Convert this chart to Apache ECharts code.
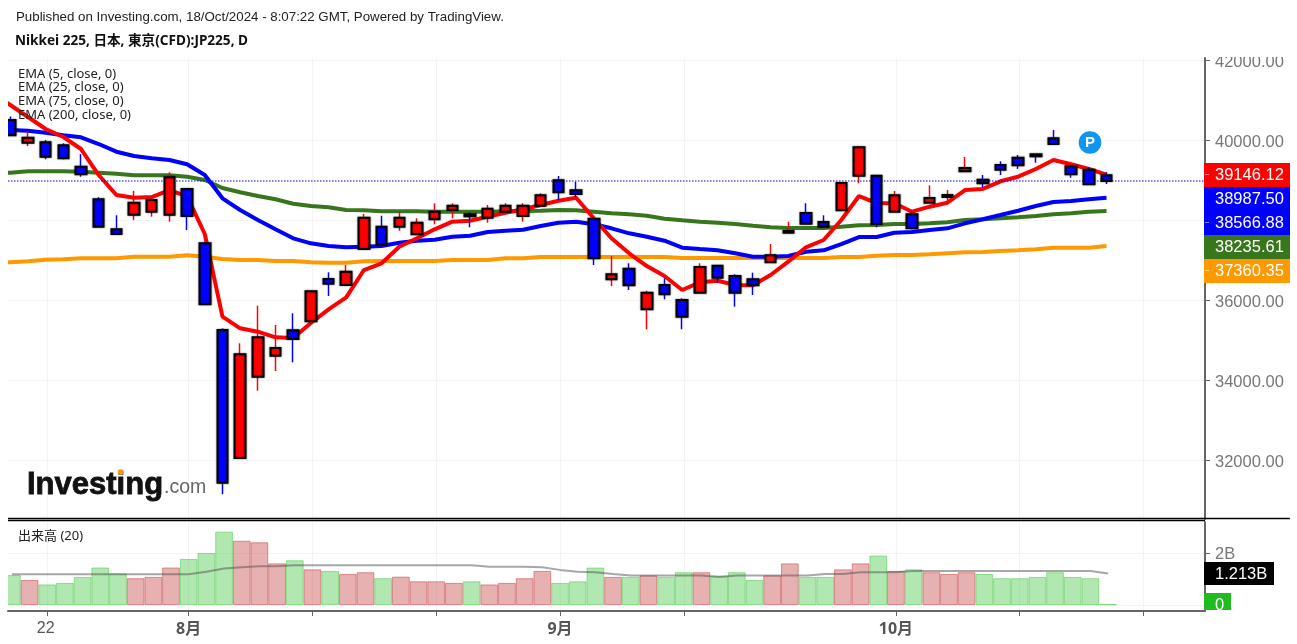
<!DOCTYPE html>
<html>
<head>
<meta charset="utf-8">
<title>Nikkei 225</title>
<style>
  html, body { margin: 0; padding: 0; background: #fff; }
  #chart { width: 1297px; height: 644px; }
</style>
<script src="https://cdn.jsdelivr.net/npm/echarts@6/dist/echarts.min.js"></script>
</head>
<body>
<div id="chart"></div>
<script>
const opens = [40510,39945,39955,39880,39345,38530,37780,38145,38220,38145,38790,37430,35262,32060,34095,34620,35255,35480,36537,36387,37287,37845,37845,37655,38030,38262,38155,38070,38220,38112,38370,39005,38755,38045,36530,36795,35780,36387,36012,36195,36870,36612,36530,36955,37695,38187,37962,38255,39120,39120,38220,38155,38445,38587,39230,39020,39387,39570,39655,40055,39355,39270,39130]
const closes = [40130,40070,39595,39555,39155,37845,37660,38445,38510,39080,38110,35905,31445,34655,35080,34812,35037,36230,36420,36720,38070,37395,38070,37945,38220,38370,38105,38295,38370,38370,38630,38705,38662,37055,36655,36380,36195,36155,35595,36837,36570,36195,36380,37130,37737,37920,37845,38937,39830,37912,38630,37805,38562,38637,39312,38930,39270,39380,39605,39912,39155,38905,38987.5]
const lows = [40120,39860,39530,39530,39095,37840,37660,38010,38095,37970,37760,35890,31155,32060,33745,34237,34455,35470,36112,36380,37280,37390,37745,37650,37905,38055,37830,37945,38195,37970,38360,38512,38580,36887,36362,36262,35280,36030,35280,36190,36445,35845,36137,36950,37690,37915,37840,38250,38930,37830,38215,37780,38440,38430,39225,38830,39137,39287,39445,39905,39070,38900,38912]
const highs = [40600,40220,40010,39930,39660,38580,38130,38740,38555,39205,38810,37440,35305,34930,35870,35387,35680,36240,36705,36887,38162,38120,38230,38055,38430,38430,38205,38387,38430,38430,38680,39112,38970,38060,37112,36930,36245,36555,36055,36930,36880,36655,36695,37412,37970,38430,38130,38940,39862,39130,38737,38237,38880,38762,39587,39137,39480,39637,39660,40262,39365,39330,39205]

// the EMA lists start one session before the first candle, off the left edge
const ema5 = [41187,40887,40587,40287,40087,39787,39137,38637,38570,38587,38762,38605,37662,35595,35305,35220,35080,35062,35437,35780,36080,36762,36930,37345,37555,37780,37970,37995,38095,38195,38280,38387,38495,38570,38055,37555,37180,36862,36612,36262,36455,36495,36387,36380,36637,36970,37330,37512,38012,38612,38437,38430,38220,38345,38445,38762,38787,38980,39095,39287,39512,39405,39287,39146.12]
const ema25 = [40270,40262,40245,40195,40130,40080,39912,39720,39612,39555,39512,39405,39137,38555,38262,38012,37780,37555,37430,37362,37330,37345,37362,37445,37495,37520,37595,37620,37712,37745,37770,37862,37945,37970,37905,37805,37680,37595,37495,37320,37287,37255,37180,37095,37095,37112,37220,37255,37412,37587,37587,37695,37712,37762,37805,37930,38030,38137,38245,38362,38462,38487,38530,38566.88]
const ema75 = [39190,39195,39230,39230,39230,39220,39195,39170,39130,39130,39130,39095,39012,38812,38705,38612,38530,38420,38362,38330,38262,38255,38230,38230,38230,38220,38220,38220,38220,38230,38237,38245,38262,38255,38220,38180,38155,38120,38045,38005,37970,37945,37912,37870,37830,37812,37812,37812,37845,37880,37887,37912,37912,37930,37955,38012,38030,38055,38080,38112,38155,38180,38220,38235.61]
const ema200 = [36930,36955,36980,37020,37030,37055,37055,37055,37095,37095,37095,37130,37095,37037,37012,37012,36987,36987,36955,36945,36945,36980,36987,36987,36987,36987,37012,37012,37012,37055,37055,37087,37087,37087,37087,37087,37087,37087,37087,37062,37062,37062,37062,37062,37062,37062,37062,37062,37087,37087,37120,37137,37137,37155,37180,37205,37212,37237,37255,37280,37320,37320,37320,37360.35]

// volume in billions
const volume = [1.15,0.96,0.79,0.85,1.08,1.44,1.21,1.03,1.08,1.44,1.77,2.0,2.82,2.47,2.41,1.6,1.72,1.37,1.31,1.19,1.26,1.03,1.09,0.91,0.91,0.85,0.91,0.79,0.85,1.03,1.31,0.85,0.91,1.44,1.08,1.08,1.14,1.08,1.26,1.26,1.13,1.26,0.96,1.14,1.6,1.08,1.08,1.37,1.6,1.9,1.31,1.37,1.26,1.19,1.26,1.19,1.03,1.03,1.08,1.26,1.08,1.03,0.03]
const volumeMa = [1.18,1.18,1.18,1.18,1.18,1.18,1.18,1.18,1.18,1.18,1.18,1.28,1.40,1.45,1.49,1.49,1.53,1.53,1.53,1.53,1.53,1.53,1.53,1.53,1.53,1.53,1.53,1.47,1.47,1.47,1.45,1.35,1.28,1.26,1.19,1.13,1.13,1.13,1.13,1.13,1.08,1.13,1.13,1.13,1.13,1.13,1.19,1.19,1.26,1.26,1.26,1.31,1.31,1.31,1.31,1.31,1.31,1.31,1.31,1.31,1.31,1.31,1.213]

const tickIndex = [2,10,17,24,31,38,50,57,64]
const monthTicks = [2,10,31,50]
const monthLabels = ['22','8月','9月','10月']
const priceTicks = [32000,34000,36000,38000,40000,42000]
const volumeTicks = [0,2]

const emaLegend = ['EMA (5, close, 0)','EMA (25, close, 0)','EMA (75, close, 0)','EMA (200, close, 0)']
const tagLabels = ['39146.12','38987.50','38566.88','38235.61','37360.35']
const tagColors = ['#ff0000','#0000ff','#0000ff','#38761d','#ff9900']

const candleShift = 0.09 // candles sit a little left of the volume bars and ticks
const axisMin = -0.22
const axisMax = 67.48

const fontLatin = '"Liberation Sans", Arial, sans-serif'
const fontNoto = '"Noto Sans", "Noto Sans CJK JP", sans-serif'

const candleData = opens.map((o, i) => [i - candleShift, o, closes[i], lows[i], highs[i]])
const bodyData = opens.map((o, i) => [i - candleShift, o, closes[i], Math.min(o, closes[i]), Math.max(o, closes[i])])
const volumeData = volume.map((v, i) => {
  const up = closes[i] > opens[i]
  return {
    value: [i, v],
    itemStyle: {
      color: up ? 'rgba(204,82,82,0.45)' : 'rgba(90,205,90,0.47)',
      borderColor: up ? 'rgba(204,82,82,0.6)' : 'rgba(90,205,90,0.6)'
    }
  }
})

function emaSeries(name, values, color) {
  return {
    name: name,
    type: 'line',
    xAxisIndex: 0,
    yAxisIndex: 0,
    z: 2,
    data: values.map((v, i) => [i - 1 - candleShift, v]),
    symbol: 'none',
    lineStyle: { color: color, width: 4 }
  }
}

function tagGraphics() {
  const out = []
  tagLabels.forEach((label, i) => {
    out.push({
      type: 'rect', z: 100,
      shape: { x: 1204, y: 163 + 24 * i, width: 86, height: 24 },
      style: { fill: tagColors[i] }
    })
    out.push({
      type: 'text', z: 101, x: 1215, y: 175 + 24 * i,
      style: { text: label, fill: '#fff', font: '16.5px ' + fontLatin, textVerticalAlign: 'middle' }
    })
    if (i % 2 === 0) {
      out.push({
        type: 'line', z: 101,
        shape: { x1: 1205, y1: 174.5 + 24 * i, x2: 1209, y2: 174.5 + 24 * i },
        style: { stroke: 'rgba(255,255,255,0.55)', lineWidth: 1 }
      })
    }
  })
  return out
}

const chart = echarts.init(document.getElementById('chart'), null, { renderer: 'canvas' })
chart.setOption({
  animation: false,
  backgroundColor: '#fff',
  title: [
    { text: 'Published on Investing.com, 18/Oct/2024 - 8:07:22 GMT, Powered by TradingView.', left: 16, top: 11, padding: 0,
      textStyle: { color: '#222', fontSize: 13.3, fontWeight: 'normal', fontFamily: fontLatin } },
    { text: 'Nikkei 225, 日本, 東京(CFD):JP225, D', left: 15, top: 34, padding: 0,
      textStyle: { color: '#111', fontSize: 13.6, fontWeight: 'bold', fontFamily: fontNoto } },
    ...emaLegend.map((t, i) => ({
      text: t, left: 18, top: 67.5 + [0, 13.5, 27, 41][i], padding: 0,
      textStyle: { color: '#222', fontSize: 13, fontWeight: 'normal', fontFamily: fontNoto }
    })),
    { text: '出来高 (20)', left: 18, top: 530, padding: 0,
      textStyle: { color: '#222', fontSize: 13, fontWeight: 'normal', fontFamily: fontNoto } }
  ],
  grid: [
    { left: 8, top: 58, width: 1197, height: 461, containLabel: false },
    { left: 8, top: 522, width: 1197, height: 89, containLabel: false }
  ],
  xAxis: [
    {
      type: 'value', gridIndex: 0, min: axisMin, max: axisMax,
      axisLine: { show: false, onZero: false },
      axisLabel: { show: false },
      axisTick: { show: false, customValues: tickIndex },
      splitLine: { show: true, lineStyle: { color: '#f3f3f3', width: 1 } }
    },
    {
      type: 'value', gridIndex: 1, min: axisMin, max: axisMax,
      axisLine: { show: true, onZero: false, lineStyle: { color: '#666', width: 2 } },
      axisTick: { show: true, length: 5, lineStyle: { color: '#666' }, customValues: tickIndex },
      axisLabel: {
        show: true, margin: 10, customValues: monthTicks, showMinLabel: true, showMaxLabel: true,
        color: '#555', fontSize: 16, fontFamily: fontLatin,
        formatter: function (v) {
          const label = monthLabels[monthTicks.indexOf(v)]
          return label.indexOf('月') > 0 ? '{m|' + label + '}' : '{d|' + label + '}'
        },
        rich: {
          m: { fontSize: 16, fontWeight: 'bold', color: '#555', fontFamily: fontNoto },
          d: { fontSize: 16, color: '#555', fontFamily: fontLatin, padding: [0, 3, 0, 0] }
        }
      },
      splitLine: { show: true, lineStyle: { color: '#f3f3f3', width: 1 } }
    }
  ],
  yAxis: [
    {
      type: 'value', gridIndex: 0, position: 'right', min: 30537.5, max: 42062.5,
      axisLine: { show: true, onZero: false, lineStyle: { color: '#666', width: 2 } },
      axisTick: { show: true, length: 5, lineStyle: { color: '#666' }, customValues: priceTicks },
      axisLabel: {
        show: true, margin: 10, customValues: priceTicks,
        formatter: function (v) { return '{p|' + v.toFixed(2) + '}' },
        rich: { p: { color: '#777', fontSize: 16.5, fontFamily: fontLatin, padding: [4, 0, 0, 0] } }
      },
      splitLine: { show: true, lineStyle: { color: '#f3f3f3', width: 1 } }
    },
    {
      type: 'value', gridIndex: 1, position: 'right', min: -0.23, max: 3.19,
      axisLine: { show: true, onZero: false, lineStyle: { color: '#666', width: 2 } },
      axisTick: { show: true, length: 5, lineStyle: { color: '#666' }, customValues: volumeTicks },
      axisLabel: {
        show: true, margin: 10, customValues: [2],
        formatter: function (v) { return '{p|' + v + 'B}' },
        rich: { p: { color: '#777', fontSize: 16.5, fontFamily: fontLatin, padding: [2, 0, 0, 0] } }
      },
      splitLine: { show: true, lineStyle: { color: '#f3f3f3', width: 1 } }
    }
  ],
  series: [
    emaSeries('EMA 200', ema200, '#ff9900'),
    emaSeries('EMA 75', ema75, '#38761d'),
    emaSeries('EMA 25', ema25, '#0000ff'),
    emaSeries('EMA 5', ema5, '#ff0000'),
    {
      name: 'last',
      type: 'line',
      xAxisIndex: 0,
      yAxisIndex: 0,
      z: 2,
      symbol: 'none',
      data: [[axisMin, closes[closes.length - 1]], [axisMax, closes[closes.length - 1]]],
      lineStyle: { color: '#0000ff', type: [1.5, 1.5], width: 1 }
    },
    {
      name: 'wick',
      type: 'candlestick',
      xAxisIndex: 0,
      yAxisIndex: 0,
      z: 3,
      barWidth: 1,
      encode: { x: 0, y: [1, 2, 3, 4] },
      data: candleData,
      itemStyle: { color: '#ff0000', color0: '#0000ff', borderColor: '#ff0000', borderColor0: '#0000ff', borderWidth: 1.5 }
    },
    {
      name: 'body',
      type: 'candlestick',
      xAxisIndex: 0,
      yAxisIndex: 0,
      z: 4,
      barWidth: 11,
      encode: { x: 0, y: [1, 2, 3, 4] },
      data: bodyData,
      itemStyle: {
        color: '#ff0000', color0: '#0000ff', borderColor: '#000', borderColor0: '#000', borderWidth: 2,
        shadowColor: 'rgba(0,0,0,0.45)', shadowBlur: 2
      }
    },
    {
      name: '出来高',
      type: 'bar',
      xAxisIndex: 1,
      yAxisIndex: 1,
      barWidth: 17.7,
      data: volumeData,
      itemStyle: { borderWidth: 1 }
    },
    {
      name: '出来高 MA',
      type: 'line',
      xAxisIndex: 1,
      yAxisIndex: 1,
      z: 3,
      symbol: 'none',
      data: volumeMa.map((v, i) => [i, v]),
      lineStyle: { color: 'rgba(80,80,80,0.5)', width: 2 }
    }
  ],
  graphic: [
    // marks are cut at the left edge of the panes
    { type: 'rect', z: 90, shape: { x: 0, y: 58, width: 8, height: 552 }, style: { fill: '#fff' } },
    // pane separator
    { type: 'line', z: 90, shape: { x1: 8, y1: 518.5, x2: 1290, y2: 518.5 }, style: { stroke: '#000', lineWidth: 1.3 } },
    { type: 'line', z: 90, shape: { x1: 8, y1: 520.5, x2: 1205, y2: 520.5 }, style: { stroke: '#000', lineWidth: 1.3 } },
    // top of the 42000 label is cut by the pane
    { type: 'rect', z: 90, shape: { x: 1207, y: 45, width: 90, height: 12 }, style: { fill: '#fff' } },
    ...tagGraphics(),
    // volume tags
    { type: 'rect', z: 100, shape: { x: 1204, y: 562, width: 70, height: 23 }, style: { fill: '#000' } },
    { type: 'text', z: 101, x: 1215, y: 574, style: { text: '1.213B', fill: '#fff', font: '16.5px ' + fontLatin, textVerticalAlign: 'middle' } },
    { type: 'rect', z: 100, shape: { x: 1204, y: 593, width: 27, height: 17 }, style: { fill: '#1fbb1f' } },
    { type: 'text', z: 101, x: 1215, y: 605, style: { text: '0', fill: '#fff', font: '16.5px ' + fontLatin, textVerticalAlign: 'middle' } },
    { type: 'rect', z: 102, shape: { x: 1207, y: 610, width: 30, height: 10 }, style: { fill: '#fff' } },
    // published marker
    { type: 'circle', z: 100, shape: { cx: 1090, cy: 142.5, r: 11.3 }, style: { fill: '#0e96f0' } },
    { type: 'text', z: 101, x: 1090, y: 142.5, style: { text: 'P', fill: '#fff', font: 'bold 15px ' + fontLatin, textAlign: 'center', textVerticalAlign: 'middle' } },
    // logo
    { type: 'text', z: 100, x: 27, y: 485, style: { text: 'Investing', fill: '#111', stroke: '#111', lineWidth: 0.8, font: 'bold 31px ' + fontLatin, textVerticalAlign: 'middle' } },
    { type: 'text', z: 100, x: 164, y: 488, style: { text: '.com', fill: '#666', font: '19.5px ' + fontLatin, textVerticalAlign: 'middle' } },
    { type: 'circle', z: 101, shape: { cx: 120.5, cy: 472, r: 2.8 }, style: { fill: '#f7941d' } }
  ]
})
</script>
</body>
</html>
